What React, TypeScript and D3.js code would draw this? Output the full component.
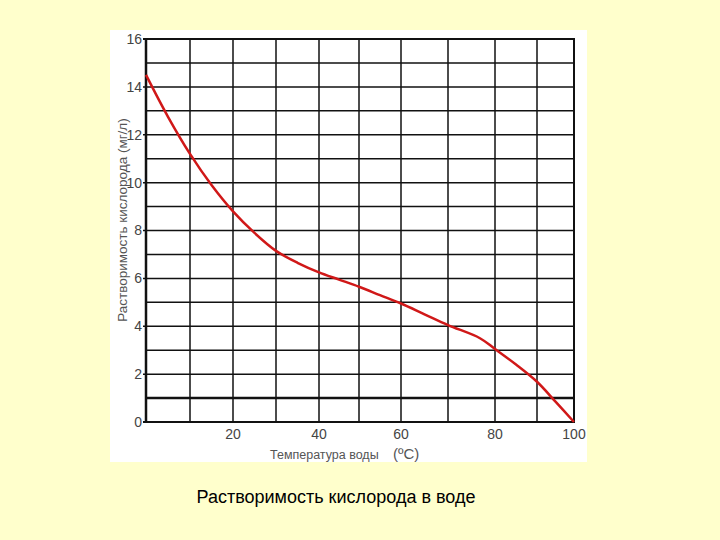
import React from "react";
import * as d3 from "d3";

// Data
const temperatures = [0, 5, 10, 15, 20, 25, 30, 35, 40, 45, 50, 55, 60, 65, 70, 76.8, 80, 85, 90, 95, 100];
const oxygen = [14.5, 12.75, 11.2, 9.9, 8.8, 7.9, 7.15, 6.65, 6.25, 5.95, 5.65, 5.3, 4.95, 4.5, 4.05, 3.5, 3.05, 2.4, 1.68, 0.85, 0];
const xTickValues = [20, 40, 60, 80, 100];
const yTickValues = [0, 2, 4, 6, 8, 10, 12, 14, 16];
const xGridValues = [0, 10, 20, 30, 40, 50, 60, 70, 80, 90, 100];
const yGridValues = d3.range(0, 17);
const title = "Растворимость кислорода в воде";
const yLabel = "Растворимость кислорода (мг/л)";
const xLabel = "Температура воды";
const xUnit = "(ºС)";

export default function App() {
  const W = 720, H = 540;
  // The original (scanned) chart has slightly uneven grid columns
  const x = d3.scaleLinear()
    .domain(xGridValues)
    .range([146, 190, 233, 276, 319, 359, 401, 448, 495, 537, 574]);
  const y = d3.scaleLinear().domain([0, 16]).range([422, 39]);
  const pts = temperatures.map((t, i) => [t, oxygen[i]] as [number, number]);
  const line = d3.line<[number, number]>()
    .x(d => x(d[0]))
    .y(d => y(d[1]))
    .curve(d3.curveCatmullRom.alpha(0.5));
  const font = "Arial, 'Liberation Sans', sans-serif";
  return (
    <svg width={W} height={H} style={{ position: "fixed", left: 0, top: 0 }}>
      <rect x={0} y={0} width={W} height={H} fill="#FFFFCC" />
      <rect x={110} y={30} width={477} height={432} fill="#ffffff" />
      {/* grid */}
      {xGridValues.map(v => (
        <line key={"vx" + v} x1={x(v)} x2={x(v)} y1={y(16)} y2={y(0)} stroke="#111" strokeWidth={1.5} />
      ))}
      {yGridValues.map(v => (
        <line key={"hy" + v} x1={x(0) - (v % 2 === 0 ? 3 : 0)} x2={x(100)} y1={y(v)} y2={y(v)} stroke="#111"
          strokeWidth={v === 1 ? 2.5 : v === 0 || v === 16 ? 2 : 1.5} />
      ))}
      <line x1={x(0)} x2={x(0)} y1={y(16) - 1} y2={y(0) + 1} stroke="#111" strokeWidth={2.5} />
      <line x1={x(100)} x2={x(100)} y1={y(16) - 1} y2={y(0) + 1} stroke="#111" strokeWidth={2} />
      {/* curve */}
      <path d={line(pts) || ""} fill="none" stroke="#D01818" strokeWidth={2.5} />
      {/* y ticks */}
      {yTickValues.map(v => (
        <text key={"yt" + v} x={142} y={y(v)} dy="0.35em" textAnchor="end" fontFamily={font} fontSize={14} fill="#444">{v}</text>
      ))}
      {xTickValues.map(v => (
        <text key={"xt" + v} x={x(v)} y={434} dy="0.35em" textAnchor="middle" fontFamily={font} fontSize={14} fill="#444">{v}</text>
      ))}
      <text transform={`translate(127,220) rotate(-90)`} textAnchor="middle" fontFamily={font} fontSize={13.5} fill="#555">{yLabel}</text>
      <text x={270} y={459} fontFamily={font} fontSize={12.5} fill="#555">{xLabel}</text>
      <text x={393} y={459} fontFamily={font} fontSize={15} fill="#555">{xUnit}</text>
      <text x={336} y={503} textAnchor="middle" fontFamily={font} fontSize={18} fill="#000">{title}</text>
    </svg>
  );
}
